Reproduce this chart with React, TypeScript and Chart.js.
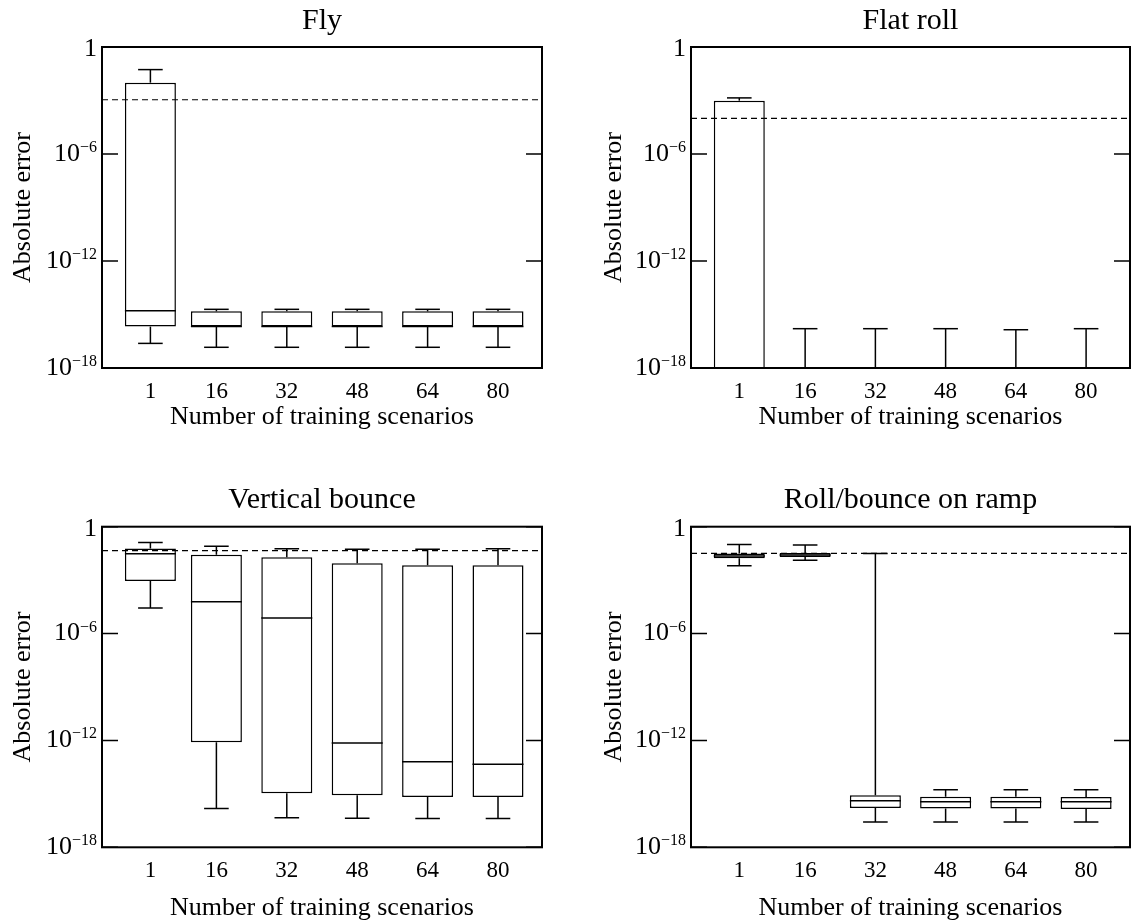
import React, { useEffect, useRef } from 'react';
import { Chart, registerables } from 'chart.js';

Chart.register(...registerables);

const FONT = "'Liberation Serif', 'Times New Roman', Times, serif";

// ---------- shared axis data ----------
const scenarios = [1, 16, 32, 48, 64, 80];
const xTickLabels = ['1', '16', '32', '48', '64', '80'];
const yTickValues = [1, 1e-6, 1e-12, 1e-18];
const yTickLabels = ['1', '10^\u22126', '10^\u221212', '10^\u221218'];
const X_MIN = -10;
const X_MAX = 90;
const Y_MIN = 1e-18;
const Y_MAX = 1;
const xAxisTitle = 'Number of training scenarios';
const yAxisTitle = 'Absolute error';

// ---------- Fly ----------
const flyWhiskerHigh = [5.4e-2, 1.95e-15, 1.95e-15, 1.95e-15, 1.95e-15, 1.95e-15];
const flyQ3 = [1e-2, 1.5e-15, 1.5e-15, 1.5e-15, 1.5e-15, 1.5e-15];
const flyMedian = [1.6e-15, 2.1e-16, 2.1e-16, 2.1e-16, 2.1e-16, 2.1e-16];
const flyQ1 = [2.1e-16, 2.1e-16, 2.1e-16, 2.1e-16, 2.1e-16, 2.1e-16];
const flyWhiskerLow = [2.4e-17, 1.45e-17, 1.45e-17, 1.45e-17, 1.45e-17, 1.45e-17];
const flyThreshold = 1.1e-3;

// ---------- Flat roll ----------
const flatWhiskerHigh = [1.4e-3, 1.6e-16, 1.6e-16, 1.6e-16, 1.4e-16, 1.6e-16];
const flatQ3 = [9.8e-4, 0, 0, 0, 0, 0];
const flatMedian = [0, 0, 0, 0, 0, 0];
const flatQ1 = [0, 0, 0, 0, 0, 0];
const flatWhiskerLow = [0, 0, 0, 0, 0, 0];
const flatThreshold = 1e-4;

// ---------- Vertical bounce ----------
const bounceWhiskerHigh = [0.13, 0.079, 0.058, 0.054, 0.054, 0.058];
const bounceQ3 = [0.06, 0.027, 0.019, 8.8e-3, 6.8e-3, 6.8e-3];
const bounceMedian = [0.03, 6.2e-5, 7.4e-6, 7.1e-13, 6.4e-14, 4.6e-14];
const bounceQ1 = [9e-4, 7.9e-13, 1.07e-15, 8.3e-16, 6.6e-16, 6.6e-16];
const bounceWhiskerLow = [2.7e-5, 1.5e-16, 4.6e-17, 4.3e-17, 4.1e-17, 4.1e-17];
const bounceThreshold = 0.045;

// ---------- Roll/bounce on ramp ----------
const rampWhiskerHigh = [0.1, 0.094, 0.031, 1.7e-15, 1.7e-15, 1.7e-15];
const rampQ3 = [0.031, 0.033, 8.3e-16, 6.9e-16, 6.9e-16, 6.6e-16];
const rampMedian = [0.023, 0.026, 4.1e-16, 3.6e-16, 3.6e-16, 3.6e-16];
const rampQ1 = [0.017, 0.02, 1.6e-16, 1.5e-16, 1.5e-16, 1.4e-16];
const rampWhiskerLow = [6.5e-3, 0.013, 2.6e-17, 2.6e-17, 2.6e-17, 2.6e-17];
const rampThreshold = 0.032;

type PanelData = {
  title: string;
  whiskerHigh: number[];
  q3: number[];
  median: number[];
  q1: number[];
  whiskerLow: number[];
  threshold: number;
};

type PanelLayout = {
  left: number;
  top: number;
  width: number;
  height: number;
  yAxisWidth: number;
  rightPad: number;
  titlePadTop: number;
  titlePadBottom: number;
  xAxisHeight: number;
  xTitlePadBottom: number;
  yTitlePadTop: number;
};

const panels: { data: PanelData; layout: PanelLayout }[] = [
  {
    data: { title: 'Fly', whiskerHigh: flyWhiskerHigh, q3: flyQ3, median: flyMedian, q1: flyQ1, whiskerLow: flyWhiskerLow, threshold: flyThreshold },
    layout: { left: 0, top: 0, width: 565, height: 440, yAxisWidth: 102, rightPad: 23, titlePadTop: 3.4, titlePadBottom: 7.6, xAxisHeight: 72, xTitlePadBottom: 7.7, yTitlePadTop: 7.6 },
  },
  {
    data: { title: 'Flat roll', whiskerHigh: flatWhiskerHigh, q3: flatQ3, median: flatMedian, q1: flatQ1, whiskerLow: flatWhiskerLow, threshold: flatThreshold },
    layout: { left: 565, top: 0, width: 566, height: 440, yAxisWidth: 126, rightPad: 1, titlePadTop: 3.4, titlePadBottom: 7.6, xAxisHeight: 72, xTitlePadBottom: 7.7, yTitlePadTop: 33.6 },
  },
  {
    data: { title: 'Vertical bounce', whiskerHigh: bounceWhiskerHigh, q3: bounceQ3, median: bounceMedian, q1: bounceQ1, whiskerLow: bounceWhiskerLow, threshold: bounceThreshold },
    layout: { left: 0, top: 440, width: 565, height: 484, yAxisWidth: 102, rightPad: 23, titlePadTop: 42.6, titlePadBottom: 8.1, xAxisHeight: 76.7, xTitlePadBottom: 0, yTitlePadTop: 7.6 },
  },
  {
    data: { title: 'Roll/bounce on ramp', whiskerHigh: rampWhiskerHigh, q3: rampQ3, median: rampMedian, q1: rampQ1, whiskerLow: rampWhiskerLow, threshold: rampThreshold },
    layout: { left: 565, top: 440, width: 566, height: 484, yAxisWidth: 126, rightPad: 1, titlePadTop: 42.6, titlePadBottom: 8.1, xAxisHeight: 76.7, xTitlePadBottom: 0, yTitlePadTop: 33.6 },
  },
];

// values of 0 (exact) cannot sit on a log axis: place them below the visible range
const BELOW_AXIS = Y_MIN / 100;
const pos = (v: number) => (v > 0 ? v : BELOW_AXIS);

const BOX_WIDTH = 51;
const CAP_HALF = 12.3;
const LINE_W = 1.5;

const noPadding = () => ({ left: 0, top: 0, right: 0, bottom: 0 });

const frameAndYLabels = {
  id: 'frameAndYLabels',
  afterDraw(chart: any) {
    const { ctx, chartArea: a } = chart;
    const ys = chart.scales.y;
    ctx.save();
    ctx.strokeStyle = '#000';
    ctx.fillStyle = '#000';
    ctx.lineWidth = 2;
    ctx.strokeRect(a.left, a.top, a.right - a.left, a.bottom - a.top);
    ctx.lineWidth = LINE_W;
    yTickValues.forEach((v, i) => {
      const py = ys.getPixelForValue(v);
      ctx.beginPath();
      ctx.moveTo(a.left, py);
      ctx.lineTo(a.left + 16, py);
      ctx.moveTo(a.right - 16, py);
      ctx.lineTo(a.right, py);
      ctx.stroke();
      const [base, exp] = yTickLabels[i].split('^');
      const xr = a.left - 5;
      ctx.textAlign = 'right';
      if (exp) {
        ctx.font = `16px ${FONT}`;
        ctx.textBaseline = 'alphabetic';
        ctx.fillText(exp, xr, py - 2);
        const w = ctx.measureText(exp).width;
        ctx.font = `26px ${FONT}`;
        ctx.textBaseline = 'middle';
        ctx.fillText(base, xr - w, py);
      } else {
        ctx.font = `26px ${FONT}`;
        ctx.textBaseline = 'middle';
        ctx.fillText(base, xr, py + 2);
      }
    });
    ctx.restore();
  },
};

function Panel({ data, layout }: { data: PanelData; layout: PanelLayout }) {
  const ref = useRef<HTMLCanvasElement | null>(null);

  useEffect(() => {
    if (!ref.current) return;
    const boxes = scenarios.map((x, i) => ({ x, y: [pos(data.q1[i]), pos(data.q3[i])] }));
    const lowWhisk = scenarios.map((x, i) => ({ x, y: [pos(data.whiskerLow[i]), pos(data.q1[i])] }));
    const highWhisk = scenarios.map((x, i) => ({ x, y: [pos(data.q3[i]), pos(data.whiskerHigh[i])] }));
    const caps = [
      ...scenarios.map((x, i) => ({ x, y: pos(data.whiskerHigh[i]) })),
      ...scenarios.map((x, i) => ({ x, y: pos(data.whiskerLow[i]) })),
    ];
    const medians = scenarios.map((x, i) => ({ x, y: pos(data.median[i]) }));
    const thresholdLine = [
      { x: X_MIN, y: data.threshold },
      { x: X_MAX, y: data.threshold },
    ];

    const chart = new Chart(ref.current, {
      type: 'bar',
      data: {
        datasets: [
          {
            type: 'line',
            data: thresholdLine,
            borderColor: '#000',
            borderWidth: 1.2,
            borderDash: [6, 4],
            pointRadius: 0,
            clip: 0,
            order: 0,
          } as any,
          {
            type: 'line',
            data: medians,
            showLine: false,
            pointStyle: 'line',
            pointRadius: BOX_WIDTH / 2,
            pointBorderWidth: LINE_W,
            pointBorderColor: '#000',
            pointBackgroundColor: '#000',
            clip: 0,
            order: 1,
          } as any,
          {
            type: 'line',
            data: caps,
            showLine: false,
            pointStyle: 'line',
            pointRadius: CAP_HALF,
            pointBorderWidth: LINE_W,
            pointBorderColor: '#000',
            pointBackgroundColor: '#000',
            clip: 0,
            order: 2,
          } as any,
          {
            type: 'bar',
            data: lowWhisk,
            backgroundColor: '#000',
            borderWidth: 0,
            barThickness: LINE_W,
            grouped: false,
            inflateAmount: 0,
            clip: 0,
            order: 3,
          } as any,
          {
            type: 'bar',
            data: highWhisk,
            backgroundColor: '#000',
            borderWidth: 0,
            barThickness: LINE_W,
            grouped: false,
            inflateAmount: 0,
            clip: 0,
            order: 3,
          } as any,
          {
            type: 'bar',
            data: boxes,
            backgroundColor: '#fff',
            borderColor: '#000',
            borderWidth: LINE_W,
            borderSkipped: false,
            barThickness: BOX_WIDTH,
            grouped: false,
            inflateAmount: 0,
            clip: 0,
            order: 4,
          } as any,
        ],
      },
      options: {
        responsive: false,
        animation: false,
        events: [],
        layout: { autoPadding: false, padding: { left: 0, right: layout.rightPad, top: 0, bottom: 0 } },
        plugins: {
          legend: { display: false },
          tooltip: { enabled: false },
          title: {
            display: true,
            text: data.title,
            color: '#000',
            fullSize: false,
            font: { family: FONT, size: 30, weight: 'normal', lineHeight: 1.2 },
            padding: { top: layout.titlePadTop, bottom: layout.titlePadBottom },
          },
        },
        scales: {
          x: {
            type: 'linear',
            min: X_MIN,
            max: X_MAX,
            offset: false,
            grid: { display: false, drawTicks: false, offset: false },
            border: { display: false },
            afterBuildTicks: (s: any) => {
              s.ticks = scenarios.map((v) => ({ value: v }));
            },
            afterFit: (s: any) => {
              s.height = layout.xAxisHeight;
              s.paddingLeft = 0;
              s.paddingRight = 0;
              s.getPadding = noPadding;
            },
            ticks: {
              autoSkip: false,
              maxRotation: 0,
              padding: 10.2,
              color: '#000',
              font: { family: FONT, size: 23, lineHeight: 1.2 },
              callback: (_v: any, i: number) => xTickLabels[i],
            },
            title: {
              display: true,
              text: xAxisTitle,
              color: '#000',
              font: { family: FONT, size: 26, lineHeight: 1.2 },
              padding: { top: 0, bottom: layout.xTitlePadBottom },
            },
          },
          y: {
            type: 'logarithmic',
            min: Y_MIN,
            max: Y_MAX,
            beginAtZero: false,
            grid: { display: false, drawTicks: false },
            border: { display: false },
            ticks: { display: false },
            afterFit: (s: any) => {
              s.width = layout.yAxisWidth;
              s.paddingTop = 0;
              s.paddingBottom = 0;
              s.getPadding = noPadding;
            },
            title: {
              display: true,
              text: yAxisTitle,
              color: '#000',
              font: { family: FONT, size: 26, lineHeight: 1.2 },
              padding: { top: layout.yTitlePadTop, bottom: 0 },
            },
          },
        },
      } as any,
      plugins: [frameAndYLabels],
    });
    return () => chart.destroy();
  }, [data, layout]);

  return (
    <div style={{ position: 'absolute', left: layout.left, top: layout.top, width: layout.width, height: layout.height }}>
      <canvas
        ref={ref}
        width={layout.width}
        height={layout.height}
        style={{ display: 'block', width: layout.width, height: layout.height }}
      />
    </div>
  );
}

export default function App() {
  return (
    <div style={{ position: 'absolute', left: 0, top: 0, width: 1131, height: 924, background: '#fff', overflow: 'hidden' }}>
      {panels.map((p) => (
        <Panel key={p.data.title} data={p.data} layout={p.layout} />
      ))}
    </div>
  );
}
